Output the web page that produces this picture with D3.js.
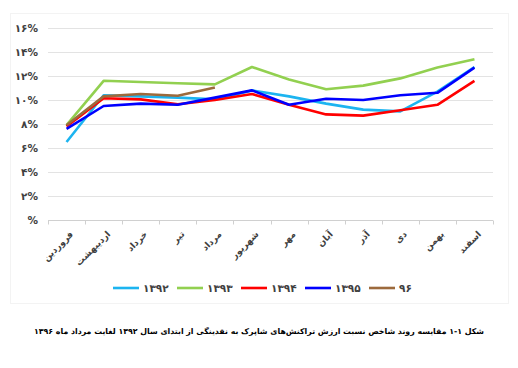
<!DOCTYPE html>
<html>
<head>
<meta charset="utf-8">
<script src="https://cdn.jsdelivr.net/npm/d3@7"></script>
<style>
  body { margin: 0; background: #fff; font-family: "DejaVu Sans", sans-serif; }
</style>
</head>
<body>
<div id="chart"></div>
<script>
// Months (x categories)
const months = ["فروردین", "اردیبهشت", "خرداد", "تیر", "مرداد", "شهریور", "مهر", "آبان", "آذر", "دی", "بهمن", "اسفند"];

// Series values (%)
const s1392 = [6.5, 10.4, 10.3, 10.2, 10.05, 10.8, 10.3, 9.7, 9.2, 9.05, 10.7, 12.75];
const s1393 = [7.9, 11.6, 11.5, 11.4, 11.3, 12.75, 11.7, 10.9, 11.2, 11.8, 12.7, 13.4];
const s1394 = [7.8, 10.15, 10.05, 9.65, 10.0, 10.5, 9.6, 8.8, 8.7, 9.15, 9.6, 11.6];
const s1395 = [7.6, 9.5, 9.7, 9.6, 10.2, 10.8, 9.6, 10.1, 10.0, 10.4, 10.6, 12.7];
const s96 = [7.9, 10.3, 10.5, 10.35, 11.05];

const seriesNames = ["۱۳۹۲", "۱۳۹۳", "۱۳۹۴", "۱۳۹۵", "۹۶"];
const seriesColors = ["#1cb4f0", "#92d050", "#ff0000", "#0000ff", "#9c6a3c"];
const seriesValues = [s1392, s1393, s1394, s1395, s96];

// Y ticks
const yTicks = [0, 2, 4, 6, 8, 10, 12, 14, 16];
const yTickLabels = ["%", "۲%", "۴%", "۶%", "۸%", "۱۰%", "۱۲%", "۱۴%", "۱۶%"];

const caption = "شکل ۱-۱ مقایسه روند شاخص نسبت ارزش تراکنش‌های شاپرک به نقدینگی از ابتدای سال ۱۳۹۲ لغایت مرداد ماه ۱۳۹۶";

const width = 518, height = 368;
const plotLeft = 48, plotRight = 493, plotTop = 28, plotBottom = 220;

const svg = d3.select("#chart").append("svg")
    .attr("width", width)
    .attr("height", height);

// faint chart area frame
svg.append("rect")
    .attr("x", 10.5).attr("y", 13.5)
    .attr("width", 498).attr("height", 290)
    .attr("fill", "none")
    .attr("stroke", "#f3f3f3");

const xScale = d3.scaleBand()
    .domain(months)
    .range([plotLeft, plotRight]);

const yScale = d3.scaleLinear()
    .domain([0, 16])
    .range([plotBottom, plotTop]);

// Grid lines
svg.append("g")
    .selectAll("line")
    .data(yTicks.filter(d => d > 0))
    .enter()
    .append("line")
    .attr("x1", plotLeft).attr("x2", plotRight)
    .attr("y1", d => yScale(d) + 0.5).attr("y2", d => yScale(d) + 0.5)
    .attr("stroke", "#e3e3e3")
    .attr("stroke-width", 1.2);

// Y axis labels
const yAxis = d3.axisLeft(yScale)
    .tickValues(yTicks)
    .tickSize(0)
    .tickPadding(10)
    .tickFormat((d, i) => yTickLabels[i]);
svg.append("g")
    .attr("transform", `translate(${plotLeft}, 0)`)
    .call(yAxis)
    .call(g => g.select(".domain").remove())
    .call(g => g.selectAll("text")
        .attr("font-family", "DejaVu Sans")
        .attr("font-size", 10.5)
        .attr("font-weight", "bold")
        .attr("fill", "#404040"));

// X axis with ticks at band edges
const xAxisG = svg.append("g")
    .attr("transform", `translate(0, ${plotBottom + 0.5})`);
xAxisG.append("line")
    .attr("x1", plotLeft).attr("x2", plotRight)
    .attr("stroke", "#d0d0d0");
xAxisG.selectAll(".edge")
    .data(d3.range(months.length + 1))
    .enter()
    .append("line")
    .attr("x1", i => Math.round(plotLeft + i * xScale.step()) + 0.5)
    .attr("x2", i => Math.round(plotLeft + i * xScale.step()) + 0.5)
    .attr("y1", 0).attr("y2", 4)
    .attr("stroke", "#d0d0d0");

xAxisG.selectAll(".lbl")
    .data(months)
    .enter()
    .append("text")
    .attr("transform", d => `translate(${xScale(d) + xScale.bandwidth() / 2 + 5}, 12) rotate(-45)`)
    .attr("text-anchor", "end")
    .attr("dy", "0.35em")
    .attr("font-family", "DejaVu Sans")
    .attr("font-size", 9)
    .attr("font-weight", "bold")
    .attr("fill", "#404040")
    .text(d => d);

// Lines
const line = d3.line()
    .x((d, i) => xScale(months[i]) + xScale.bandwidth() / 2)
    .y(d => yScale(d));

svg.append("g")
    .selectAll("path")
    .data(seriesValues)
    .enter()
    .append("path")
    .attr("d", d => line(d))
    .attr("fill", "none")
    .attr("stroke", (d, i) => seriesColors[i])
    .attr("stroke-width", 2.6)
    .attr("stroke-linejoin", "round");

// Legend
const legend = svg.append("g")
    .attr("transform", "translate(113, 288)");
const item = legend.selectAll("g")
    .data(seriesNames)
    .enter()
    .append("g")
    .attr("transform", (d, i) => `translate(${i * 64}, 0)`);
item.append("line")
    .attr("x1", 0).attr("x2", 26)
    .attr("stroke", (d, i) => seriesColors[i])
    .attr("stroke-width", 2.6);
item.append("text")
    .attr("x", 30)
    .attr("dy", "0.35em")
    .attr("font-family", "DejaVu Sans")
    .attr("font-size", 10.5)
    .attr("font-weight", "bold")
    .attr("fill", "#404040")
    .text(d => d);

// Caption: size the font so it spans the same width as the reference
const capText = svg.append("text")
    .attr("x", 259)
    .attr("y", 331)
    .attr("text-anchor", "middle")
    .attr("dy", "0.35em")
    .attr("font-family", "DejaVu Sans")
    .attr("font-size", 10)
    .attr("font-weight", "bold")
    .attr("fill", "#000")
    .text(caption);
const capW = capText.node().getComputedTextLength();
if (capW > 450) {
    capText.attr("font-size", (10 * 450 / capW).toFixed(2));
}
</script>
</body>
</html>
